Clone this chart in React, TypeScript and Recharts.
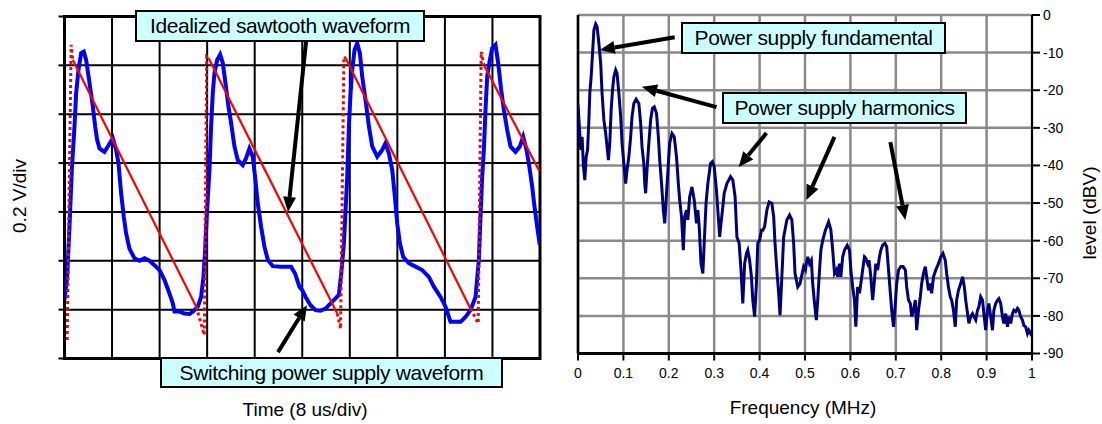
import React from 'react';
import {
  LineChart, Line, XAxis, YAxis, CartesianGrid, ReferenceLine, ReferenceArea,
} from 'recharts';

const FONT = '"Liberation Sans", Arial, Helvetica, sans-serif';

// scope trace, [time in divisions, amplitude in divisions]
const scopeTrace: [number, number][] = [
  [0, 1.2], [0.056, 1.67], [0.105, 2.7], [0.154, 3.86], [0.21, 4.75], [0.245, 5.43], [0.294, 5.91],
  [0.35, 6.25], [0.406, 6.28], [0.455, 6.11], [0.526, 5.64], [0.596, 5.16], [0.645, 4.75], [0.687, 4.47],
  [0.736, 4.3], [0.841, 4.23], [0.911, 4.34], [1.016, 4.51], [1.086, 4.27], [1.135, 4.0], [1.191, 3.38],
  [1.247, 2.9], [1.296, 2.56], [1.366, 2.25], [1.472, 2.05], [1.577, 2.0], [1.682, 2.05], [1.787, 2.0],
  [1.892, 1.91], [1.997, 1.81], [2.102, 1.61], [2.207, 1.33], [2.278, 1.13], [2.313, 0.96], [2.418, 0.96],
  [2.523, 0.92], [2.628, 0.91], [2.698, 0.96], [2.803, 1.06], [2.873, 1.26], [2.922, 1.67], [2.957, 2.22],
  [2.999, 3.04], [3.048, 3.86], [3.083, 4.75], [3.118, 5.43], [3.153, 5.84], [3.21, 6.11], [3.273, 6.22],
  [3.329, 6.05], [3.385, 5.64], [3.448, 5.16], [3.504, 4.82], [3.574, 4.34], [3.644, 4.06], [3.749, 3.96],
  [3.819, 4.1], [3.889, 4.3], [3.959, 4.13], [4.008, 3.72], [4.064, 3.18], [4.134, 2.7], [4.205, 2.29],
  [4.275, 2.02], [4.38, 1.89], [4.555, 1.88], [4.765, 1.88], [4.849, 1.74], [4.94, 1.47], [5.0, 1.4],
  [5.07, 1.26], [5.175, 1.09], [5.28, 0.99], [5.385, 0.98], [5.49, 1.02], [5.596, 1.13], [5.7, 1.23],
  [5.77, 1.3], [5.82, 1.74], [5.876, 2.36], [5.911, 3.04], [5.946, 3.72], [5.981, 4.75], [6.016, 5.43],
  [6.051, 5.91], [6.1, 6.32], [6.156, 6.45], [6.212, 6.25], [6.261, 5.77], [6.331, 5.29], [6.402, 4.75],
  [6.472, 4.34], [6.577, 4.13], [6.682, 4.27], [6.752, 4.41], [6.822, 4.2], [6.892, 3.86], [6.948, 3.31],
  [6.997, 2.77], [7.053, 2.36], [7.123, 2.08], [7.242, 1.95], [7.383, 1.88], [7.523, 1.81], [7.663, 1.67],
  [7.768, 1.47], [7.908, 1.26], [8.013, 1.06], [8.118, 0.75], [8.224, 0.75], [8.329, 0.75], [8.434, 0.85],
  [8.539, 0.99], [8.644, 1.26], [8.714, 2.02], [8.749, 2.9], [8.784, 3.72], [8.819, 4.27], [8.854, 5.09],
  [8.889, 5.77], [8.945, 6.11], [8.994, 6.35], [9.064, 6.42], [9.12, 6.05], [9.183, 5.5], [9.24, 5.09],
  [9.31, 4.68], [9.38, 4.34], [9.485, 4.23], [9.576, 4.34], [9.646, 4.54], [9.716, 4.27], [9.765, 4.0],
  [9.835, 3.52], [9.884, 3.11], [9.94, 2.7], [9.996, 2.32],
];

// idealized sawtooth: solid ramps and dotted flybacks
const sawRamps: [number, number][][] = [
  [[0.175, 6.11], [2.77, 1.06]],
  [[3.03, 6.15], [5.736, 0.92]],
  [[5.911, 6.15], [8.539, 1.02]],
  [[8.819, 6.01], [9.98, 3.85]],
];
const sawFlybacks: [number, number][][] = [
  [[0.056, 0.38], [0.14, 6.42], [0.175, 6.11]],
  [[2.77, 1.06], [2.94, 0.48], [2.99, 6.18], [3.03, 6.15]],
  [[5.736, 0.92], [5.806, 0.61], [5.876, 6.18], [5.911, 6.15]],
  [[8.539, 1.02], [8.7, 0.72], [8.763, 6.28], [8.819, 6.01]],
];

// spectrum, [MHz, dBV]
const spectrum: [number, number][] = [
  [0, -23.9], [0.003, -29.7], [0.006, -35.9], [0.009, -32.4], [0.012, -40.3], [0.015, -43.9], [0.018, -37.7],
  [0.021, -35.9], [0.024, -27.9], [0.026, -20.8], [0.029, -16.4], [0.032, -10.2], [0.035, -4.0], [0.039, -2.4],
  [0.042, -3.1], [0.046, -7.5], [0.05, -12.9], [0.053, -20.8], [0.057, -27.9], [0.061, -31.5], [0.064, -35.0],
  [0.067, -38.6], [0.07, -34.1], [0.073, -25.3], [0.076, -20.0], [0.079, -16.4], [0.083, -14.6], [0.086, -15.5],
  [0.09, -20.8], [0.094, -27.0], [0.097, -34.1], [0.101, -39.5], [0.105, -44.8], [0.108, -41.2], [0.112, -37.7],
  [0.116, -32.4], [0.119, -27.0], [0.123, -23.5], [0.128, -22.4], [0.134, -23.5], [0.138, -28.8], [0.141, -35.0],
  [0.145, -39.5], [0.147, -44.8], [0.149, -47.4], [0.152, -41.2], [0.156, -34.1], [0.16, -27.9], [0.164, -24.8],
  [0.168, -24.4], [0.173, -26.2], [0.177, -32.4], [0.18, -38.6], [0.184, -44.8], [0.188, -51.9], [0.191, -55.4],
  [0.195, -47.4], [0.199, -39.5], [0.202, -34.1], [0.207, -31.5], [0.212, -32.4], [0.217, -37.7], [0.221, -44.8],
  [0.224, -49.2], [0.228, -53.6], [0.232, -62.5], [0.235, -53.6], [0.239, -51.9], [0.242, -54.5], [0.246, -48.3],
  [0.251, -45.7], [0.256, -49.2], [0.261, -55.4], [0.264, -51.9], [0.267, -56.3], [0.271, -66.1], [0.275, -68.7],
  [0.278, -60.7], [0.282, -50.1], [0.286, -44.8], [0.292, -39.5], [0.296, -39.0], [0.3, -40.3], [0.305, -46.6],
  [0.308, -51.9], [0.312, -59.0], [0.315, -55.4], [0.319, -51.0], [0.322, -47.4], [0.328, -44.8], [0.336, -43.0],
  [0.341, -43.9], [0.346, -48.3], [0.35, -59.0], [0.355, -60.7], [0.359, -67.8], [0.363, -76.7], [0.367, -66.1],
  [0.371, -63.4], [0.374, -62.5], [0.378, -65.2], [0.382, -69.6], [0.385, -75.8], [0.389, -80.2], [0.393, -71.4],
  [0.396, -60.7], [0.4, -59.9], [0.404, -57.2], [0.407, -57.2], [0.411, -56.3], [0.416, -51.9], [0.421, -49.7],
  [0.427, -50.1], [0.431, -53.6], [0.434, -60.7], [0.438, -67.8], [0.442, -74.0], [0.445, -79.8], [0.449, -69.6],
  [0.453, -59.0], [0.46, -54.5], [0.466, -53.2], [0.471, -54.5], [0.475, -60.7], [0.478, -68.7], [0.484, -72.3],
  [0.489, -71.4], [0.497, -66.9], [0.501, -67.8], [0.503, -66.1], [0.506, -64.3], [0.51, -66.1], [0.514, -65.2],
  [0.517, -71.4], [0.521, -76.7], [0.525, -81.1], [0.528, -75.8], [0.532, -67.8], [0.535, -62.5], [0.539, -59.9],
  [0.545, -57.2], [0.552, -55.0], [0.557, -57.2], [0.561, -62.5], [0.565, -68.7], [0.569, -67.8], [0.572, -69.6],
  [0.576, -66.1], [0.579, -69.6], [0.583, -64.3], [0.587, -62.5], [0.593, -61.2], [0.598, -62.5], [0.601, -67.8],
  [0.605, -72.3], [0.609, -75.8], [0.612, -82.9], [0.616, -72.3], [0.62, -74.0], [0.623, -71.4], [0.627, -67.8],
  [0.631, -64.3], [0.634, -64.7], [0.638, -66.1], [0.641, -65.2], [0.645, -69.6], [0.649, -75.8], [0.653, -70.5],
  [0.656, -66.1], [0.66, -67.8], [0.664, -64.3], [0.667, -62.5], [0.671, -61.2], [0.676, -60.7], [0.68, -61.6],
  [0.684, -67.8], [0.688, -74.0], [0.691, -78.5], [0.695, -82.9], [0.699, -76.7], [0.702, -71.4], [0.706, -67.8],
  [0.711, -66.9], [0.716, -66.9], [0.721, -67.8], [0.724, -72.3], [0.728, -75.8], [0.732, -76.7], [0.735, -80.2],
  [0.739, -78.5], [0.743, -75.8], [0.746, -83.8], [0.75, -78.5], [0.754, -74.9], [0.757, -71.4], [0.761, -68.7],
  [0.765, -66.9], [0.768, -69.6], [0.772, -73.2], [0.776, -71.4], [0.779, -74.0], [0.783, -69.6], [0.788, -67.8],
  [0.794, -66.1], [0.799, -64.3], [0.804, -63.4], [0.809, -65.2], [0.812, -68.7], [0.816, -72.3], [0.82, -74.9],
  [0.823, -75.8], [0.827, -78.5], [0.831, -82.9], [0.834, -75.8], [0.838, -73.2], [0.843, -71.4], [0.847, -69.6],
  [0.851, -72.3], [0.854, -75.8], [0.858, -79.4], [0.861, -82.0], [0.865, -80.2], [0.869, -79.4], [0.872, -80.2],
  [0.876, -81.1], [0.88, -78.5], [0.883, -77.6], [0.887, -74.9], [0.891, -75.8], [0.894, -79.4], [0.898, -83.8],
  [0.902, -78.5], [0.905, -76.7], [0.909, -80.2], [0.913, -83.8], [0.916, -78.5], [0.92, -76.7], [0.924, -75.8],
  [0.927, -75.4], [0.931, -76.7], [0.935, -80.2], [0.938, -82.0], [0.942, -79.4], [0.946, -82.9], [0.949, -80.2],
  [0.953, -82.0], [0.957, -79.4], [0.96, -78.5], [0.964, -78.9], [0.968, -78.0], [0.971, -78.5], [0.975, -80.2],
  [0.979, -81.1], [0.982, -82.5], [0.986, -82.9], [0.99, -84.7], [0.993, -83.8], [0.997, -84.7], [1, -84.0],
];

const scopeXTicks = [0, 1, 2, 3, 4, 5, 6, 7, 8, 9, 10];
const scopeYTicks = [0, 1, 2, 3, 4, 5, 6, 7];
const freqTicks = [0, 0.1, 0.2, 0.3, 0.4, 0.5, 0.6, 0.7, 0.8, 0.9, 1];
const levelTicks = [0, -10, -20, -30, -40, -50, -60, -70, -80, -90];

// annotation arrows in data units
const scopeArrows = [
  { from: [5.08, 6.48], to: [4.7, 3.0] },
  { from: [4.49, 0.13], to: [5.1, 1.09] },
];
const specArrows = [
  { from: [0.213, -5.9], to: [0.048, -9.3] },
  { from: [0.305, -24.5], to: [0.141, -19.1] },
  { from: [0.415, -31.4], to: [0.354, -40.4] },
  { from: [0.565, -32.4], to: [0.503, -49.2] },
  { from: [0.688, -33.8], to: [0.721, -54.5] },
];

const toRows = (pts: [number, number][]) => pts.map(([x, y]) => ({ x, y }));
const withGaps = (segs: [number, number][][]) => {
  const rows: { x: number; y: number | null }[] = [];
  segs.forEach((s, i) => {
    if (i > 0) rows.push({ x: s[0][0], y: null });
    s.forEach(([x, y]) => rows.push({ x, y }));
  });
  return rows;
};

const arrowShape = (p: any) => {
  const { x1, y1, x2, y2 } = p;
  if (x1 == null) return <g />;
  const a = Math.atan2(y2 - y1, x2 - x1);
  const len = 15, half = 6.5;
  const bx = x2 - len * Math.cos(a);
  const by = y2 - len * Math.sin(a);
  const pts = [
    [x2, y2],
    [bx + half * Math.sin(a), by - half * Math.cos(a)],
    [bx - half * Math.sin(a), by + half * Math.cos(a)],
  ].map((q) => q.join(',')).join(' ');
  return (
    <g>
      <line x1={x1} y1={y1} x2={bx} y2={by} stroke="#000" strokeWidth={4} />
      <polygon points={pts} fill="#000" />
    </g>
  );
};

const boxStyle = (left: number, top: number, width: number, height: number): React.CSSProperties => ({
  position: 'absolute', left, top, width, height, boxSizing: 'border-box',
  background: '#ccffff', border: '2px solid #000', fontSize: 21, lineHeight: `${height - 4}px`,
  textAlign: 'center', whiteSpace: 'nowrap', letterSpacing: -0.4, color: '#000',
});

const titleStyle = (x: number, y: number, rotate = false): React.CSSProperties => ({
  position: 'absolute', left: x, top: y, fontSize: 19, whiteSpace: 'nowrap', color: '#000',
  transform: `translate(-50%, -50%)${rotate ? ' rotate(-90deg)' : ''}`,
});

export default function App() {
  const scopeRows = toRows(scopeTrace);
  const rampRows = withGaps(sawRamps);
  const flyRows = withGaps(sawFlybacks);
  const specRows = toRows(spectrum);

  return (
    <div style={{ position: 'absolute', left: 0, top: 0, width: 1102, height: 424, background: '#fff', fontFamily: FONT, overflow: 'hidden' }}>
      <div style={{ position: 'absolute', left: 0, top: 0 }}>
        <LineChart width={560} height={424} margin={{ top: 16.5, right: 20, bottom: 63.5, left: 58.5 }}>
          <CartesianGrid stroke="#000" strokeWidth={2} />
          <XAxis type="number" dataKey="x" domain={[0, 10]} ticks={scopeXTicks} interval={0} height={2}
            tickFormatter={() => ''} tickLine={false} axisLine={false} allowDataOverflow />
          <YAxis type="number" domain={[0, 7]} ticks={scopeYTicks} interval={0} width={6} tickSize={6}
            tickFormatter={() => ''} tickLine={{ stroke: '#000', strokeWidth: 2 }} axisLine={false} allowDataOverflow />
          <ReferenceArea x1={0} x2={10} y1={0} y2={7} fill="none" stroke="#000" strokeWidth={3} fillOpacity={0} ifOverflow="visible" />
          <Line data={scopeRows} dataKey="y" type="linear" stroke="#0000ff" strokeWidth={4} dot={false} isAnimationActive={false} />
          <Line data={rampRows} dataKey="y" type="linear" stroke="#ff0000" strokeWidth={2.2} dot={false} isAnimationActive={false} />
          <Line data={flyRows} dataKey="y" type="linear" stroke="#ff0000" strokeWidth={3} strokeDasharray="3 3" dot={false} isAnimationActive={false} />
          {scopeArrows.map((a, i) => (
            <ReferenceLine key={i} segment={[{ x: a.from[0], y: a.from[1] }, { x: a.to[0], y: a.to[1] }]}
              ifOverflow="visible" shape={arrowShape} />
          ))}
        </LineChart>
      </div>

      <div style={{ position: 'absolute', left: 560, top: 0 }}>
        <LineChart width={542} height={424} margin={{ top: 15, right: 10, bottom: 40.5, left: 18 }}>
          <CartesianGrid stroke="#8a8a8a" strokeWidth={2.5} />
          <XAxis type="number" dataKey="x" domain={[0, 1]} ticks={freqTicks} interval={0} height={30}
            tickSize={7} tickMargin={8} tick={{ fill: '#000', fontSize: 14, fontFamily: FONT }}
            tickLine={{ stroke: '#000', strokeWidth: 2 }} axisLine={{ stroke: '#000', strokeWidth: 3 }} allowDataOverflow />
          <YAxis orientation="right" type="number" domain={[-90, 0]} ticks={levelTicks} interval={0} width={60}
            tickSize={8} tickMargin={3} tick={{ fill: '#000', fontSize: 14, fontFamily: FONT, textAnchor: 'start' }}
            tickLine={{ stroke: '#000', strokeWidth: 2 }} axisLine={{ stroke: '#000', strokeWidth: 2 }} allowDataOverflow />
          <ReferenceLine x={0} stroke="#000" strokeWidth={2.5} />
          <Line data={specRows} dataKey="y" type="linear" stroke="#00007a" strokeWidth={3} dot={false} isAnimationActive={false} />
          {specArrows.map((a, i) => (
            <ReferenceLine key={i} segment={[{ x: a.from[0], y: a.from[1] }, { x: a.to[0], y: a.to[1] }]}
              ifOverflow="visible" shape={arrowShape} />
          ))}
        </LineChart>
      </div>

      <div style={boxStyle(135, 10, 290, 32)}>Idealized sawtooth waveform</div>
      <div style={boxStyle(160, 357, 343, 31)}>Switching power supply waveform</div>
      <div style={boxStyle(681, 22, 265, 32)}>Power supply fundamental</div>
      <div style={boxStyle(722, 92, 245, 32)}>Power supply harmonics</div>

      <div style={titleStyle(20, 196, true)}>0.2 V/div</div>
      <div style={titleStyle(305, 410)}>Time (8 us/div)</div>
      <div style={titleStyle(803, 408)}>Frequency (MHz)</div>
      <div style={titleStyle(1090, 213, true)}>level (dBV)</div>
    </div>
  );
}
